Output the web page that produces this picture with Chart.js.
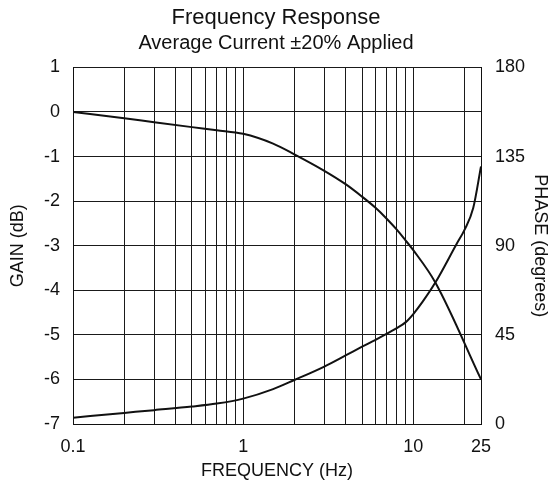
<!DOCTYPE html>
<html>
<head>
<meta charset="utf-8">
<script src="https://cdn.jsdelivr.net/npm/chart.js@4/dist/chart.umd.min.js"></script>
<style>
  body { margin: 0; background: #fff; }
  canvas { display: block; }
</style>
</head>
<body>
<canvas id="myChart" width="552" height="484"></canvas>
<script>
// gain curve, left axis: frequency (Hz) and dB
const gainFreq  = [0.1, 0.2, 0.3, 0.5, 0.7, 1, 1.5, 2, 3, 4, 5, 6, 7, 8, 9, 10, 13.5, 25];
const gain      = [0, -0.14, -0.23, -0.34, -0.41, -0.49, -0.71, -0.95, -1.32, -1.62, -1.90, -2.15, -2.40, -2.64, -2.88, -3.10, -3.83, -6.00];

// phase curve, right axis: frequency (Hz) and degrees
const phaseFreq = [0.1, 0.2, 0.3, 0.5, 0.7, 1, 1.5, 2, 3, 4, 5, 6, 7, 8, 9, 10, 11.3, 13.5, 18, 20, 22.5, 25];
const phase     = [3.2, 5.6, 7.0, 8.8, 10.3, 12.8, 17.6, 22.2, 29.0, 34.6, 39.0, 42.5, 45.6, 48.4, 51.3, 55.5, 61.5, 71.5, 91.0, 98.0, 109.0, 130.0];

// vertical grid lines and which of them get a label
const xGrid   = [0.1, 0.2, 0.3, 0.4, 0.5, 0.6, 0.7, 0.8, 0.9, 1, 2, 3, 4, 5, 6, 7, 8, 9, 10, 20, 25];
const xLabels = [0.1, 1, 10, 25];

const ink  = '#111';
const FONT = 'Liberation Sans';

// turn two arrays into {x,y} points for a line
function toPoints(xs, ys) {
  return xs.map(function (f, i) { return { x: f, y: ys[i] }; });
}

const ctx = document.getElementById('myChart').getContext('2d');
const myChart = new Chart(ctx, {
  type: 'line',
  data: {
    datasets: [
      {
        label: 'GAIN (dB)',
        data: toPoints(gainFreq, gain),
        yAxisID: 'y',
        borderColor: ink,
        borderWidth: 2,
        pointRadius: 0,
        cubicInterpolationMode: 'monotone'
      },
      {
        label: 'PHASE (degrees)',
        data: toPoints(phaseFreq, phase),
        yAxisID: 'y2',
        borderColor: ink,
        borderWidth: 2,
        pointRadius: 0,
        cubicInterpolationMode: 'monotone'
      }
    ]
  },
  options: {
    responsive: false,
    animation: false,
    layout: { padding: 0 },
    plugins: {
      legend: { display: false },
      tooltip: { enabled: false },
      title: {
        display: true,
        text: 'Frequency Response',
        color: ink,
        font: { family: FONT, size: 22, weight: 'normal' },
        padding: { top: 5, bottom: 0 }
      },
      subtitle: {
        display: true,
        text: 'Average Current \u00B120% Applied',
        color: ink,
        font: { family: FONT, size: 20, weight: 'normal' },
        padding: { top: 0, bottom: 12 }
      }
    },
    scales: {
      x: {
        type: 'logarithmic',
        min: 0.1,
        max: 25,
        afterBuildTicks: function (scale) {
          scale.ticks = xGrid.map(function (v) { return { value: v }; });
        },
        afterFit: function (scale) { scale.height = 60; },
        ticks: {
          autoSkip: false,
          maxRotation: 0,
          padding: 12.5,
          color: ink,
          font: { family: FONT, size: 18 },
          callback: function (value) {
            return xLabels.indexOf(value) >= 0 ? String(value) : '';
          }
        },
        grid: { color: '#1a1a1a', lineWidth: 1, drawTicks: false },
        border: { color: ink, width: 1 },
        title: {
          display: true,
          text: 'FREQUENCY (Hz)',
          color: ink,
          font: { family: FONT, size: 18 },
          padding: { top: 0, bottom: 2.5 }
        }
      },
      y: {
        position: 'left',
        min: -7,
        max: 1,
        afterFit: function (scale) { scale.width = 73; },
        ticks: {
          stepSize: 1,
          padding: 13,
          color: ink,
          font: { family: FONT, size: 18 }
        },
        grid: { color: '#1a1a1a', lineWidth: 1, drawTicks: false },
        border: { color: ink, width: 1 },
        title: {
          display: true,
          text: 'GAIN (dB)',
          color: ink,
          font: { family: FONT, size: 18 },
          padding: { top: 7.5, bottom: 0 }
        }
      },
      y2: {
        position: 'right',
        min: 0,
        max: 180,
        afterFit: function (scale) { scale.width = 71; },
        ticks: {
          stepSize: 45,
          padding: 14,
          color: ink,
          font: { family: FONT, size: 18 }
        },
        grid: { drawOnChartArea: false, drawTicks: false },
        border: { color: ink, width: 1 },
        title: {
          display: true,
          text: 'PHASE (degrees)',
          color: ink,
          font: { family: FONT, size: 18 },
          padding: { top: 1.5, bottom: 0 }
        }
      }
    }
  }
});
</script>
</body>
</html>
